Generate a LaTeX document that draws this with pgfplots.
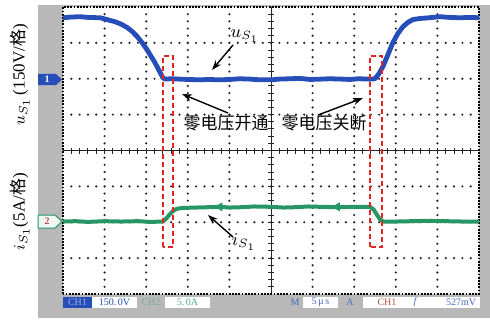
\documentclass[border=0pt]{standalone}
\usepackage{pgfplots}
\pgfplotsset{compat=1.18}
\usetikzlibrary{arrows.meta}
\usepackage{fontspec}
\setmainfont{Liberation Serif}
\newfontfamily\cjk{Noto Sans CJK SC}
\definecolor{panel}{RGB}{184,184,184}
\definecolor{chone}{RGB}{38,78,185}
\definecolor{chtwo}{RGB}{38,150,100}
\definecolor{redmark}{RGB}{228,35,35}
\definecolor{brick}{RGB}{185,85,70}
\begin{document}
\begin{tikzpicture}[x=0.5pt,y=0.5pt]
\useasboundingbox (0,0) rectangle (490,327);
\fill[white] (0,0) rectangle (490,327);
\fill[panel] (38,9) rectangle (490,322);
\fill[white] (63,33) rectangle (479,320);
% grid dots
\foreach \k in {1,2,3,4,6,7,8,9}{
  \foreach \j in {1,...,39}{
    \fill[black!85] ({63+41.6*\k},{33+7.175*\j}) circle (0.6pt);
  }
}
\foreach \k in {1,2,3,5,6,7}{
  \foreach \j in {1,...,49}{
    \fill[black!85] ({63+8.32*\j},{33+35.875*\k}) circle (0.6pt);
  }
}
% center cross with ticks
\draw[black!85, line width=0.5pt] (63,176.5) -- (479,176.5);
\draw[black!85, line width=0.5pt] (271,33) -- (271,320);
\foreach \j in {1,...,49} \draw[black!85,line width=0.5pt] ({63+8.32*\j},173.5) -- ({63+8.32*\j},179.5);
\foreach \j in {1,...,39} \draw[black!85,line width=0.5pt] (268,{33+7.175*\j}) -- (274,{33+7.175*\j});
% border
\draw[black, line width=1.1pt, dash pattern=on 0.9pt off 0.7pt] (63,33) rectangle (479,320);

\begin{axis}[at={(31.5pt,16.5pt)}, anchor=south west, scale only axis,
  width=208pt, height=143.5pt, xmin=0, xmax=10, ymin=-4, ymax=4, hide axis]
\addplot[chone, line width=2.4pt, line join=round] coordinates {
(0,3.70) (0.2,3.72) (0.41,3.73) (0.6,3.71) (0.89,3.70) (1.03,3.66) (1.15,3.62)
(1.25,3.59) (1.4,3.52) (1.54,3.43) (1.66,3.32) (1.78,3.18) (1.9,3.01) (2.02,2.81)
(2.12,2.62) (2.21,2.45) (2.30,2.25) (2.40,2.03) (2.45,1.99) (2.6,2.0) (2.81,1.99)
(3.0,1.98) (3.29,1.97) (3.5,1.98) (3.77,1.97) (4.0,1.98) (4.25,2.00) (4.5,1.99)
(4.74,1.97) (5.0,1.97) (5.2,1.99) (5.46,2.0) (5.7,2.01) (5.94,1.98) (6.2,1.99)
(6.42,2.0) (6.7,1.99) (6.90,1.98) (7.1,2.0) (7.38,1.99) (7.50,2.0) (7.60,2.15)
(7.69,2.34) (7.81,2.67) (7.93,3.01) (8.05,3.26) (8.17,3.45) (8.29,3.57) (8.41,3.65)
(8.58,3.68) (8.8,3.70) (9.06,3.73) (9.3,3.71) (9.54,3.70) (9.8,3.71) (10,3.70)
};
\addplot[chtwo, line width=2pt, line join=round] coordinates {
(0,-1.98) (0.3,-1.97) (0.6,-1.99) (1.0,-1.97) (1.4,-1.98) (1.8,-1.97) (2.1,-1.99)
(2.40,-1.98) (2.48,-1.90) (2.55,-1.80) (2.65,-1.68) (2.75,-1.62) (2.9,-1.60)
(3.2,-1.59) (3.5,-1.58) (3.77,-1.57) (4.0,-1.59) (4.3,-1.58) (4.6,-1.56) (5.0,-1.57)
(5.3,-1.59) (5.6,-1.58) (5.9,-1.56) (6.2,-1.57) (6.6,-1.58) (7.0,-1.57) (7.38,-1.57)
(7.47,-1.65) (7.55,-1.80) (7.62,-1.92) (7.70,-1.98) (8.0,-1.98) (8.4,-1.97)
(8.8,-1.96) (9.2,-1.97) (9.6,-1.98) (10,-1.98)
};
\addplot[only marks, mark=triangle*, mark size=2.2pt, mark options={rotate=90, fill=chtwo, draw=chtwo}]
  coordinates {(3.77,-1.57) (6.59,-1.57)};
\end{axis}

% red dashed boxes
\draw[redmark, dash pattern=on 2.5pt off 1.5pt, line width=0.6pt] (163,80) rectangle (173,271);
\draw[redmark, dash pattern=on 2.5pt off 1.5pt, line width=0.6pt] (370,80) rectangle (382,271);

% channel markers
\fill[chone] (38,253) -- (56,253) -- (62,247.5) -- (56,242) -- (38,242) -- cycle;
\node[text=white, font=\fontsize{5}{6}\selectfont\bfseries] at (47,247.5) {1};
\draw[chtwo, fill=chtwo!8!white, line width=0.5pt] (38,112) -- (55,112) -- (62,105.5) -- (55,99) -- (38,99) -- cycle;
\node[text=brick, font=\fontsize{5}{6}\selectfont\bfseries] at (47,105.5) {2};

% y labels
\node[rotate=90, font=\fontsize{8.5}{10}\selectfont] at (20,252) {$u_{S_1}$\,(150V/{\cjk 格})};
\node[rotate=90, font=\fontsize{8.5}{10}\selectfont] at (20,115) {$i_{S_1}$(5A/{\cjk 格})};

% annotations
\node[font=\cjk\fontsize{8.5}{10}\selectfont] at (226,204) {零电压开通};
\node[font=\cjk\fontsize{8.5}{10}\selectfont] at (324,204) {零电压关断};
\node[font=\fontsize{9}{10}\selectfont] at (245,291) {$u_{S_1}$};
\node[font=\fontsize{9}{10}\selectfont] at (244,85) {$i_{S_1}$};
\draw[-{Stealth[length=5pt,width=3.5pt]}, line width=0.7pt] (233,282) -- (212,257);
\draw[-{Stealth[length=5pt,width=3.5pt]}, line width=0.7pt] (228,214) -- (182,233);
\draw[-{Stealth[length=5pt,width=3.5pt]}, line width=0.7pt] (318,212) -- (363,229);
\draw[-{Stealth[length=5pt,width=3.5pt]}, line width=0.7pt] (233,90) -- (208,112);

% bottom bar
\begin{scope}[every node/.style={font=\fontsize{5}{6}\selectfont, inner sep=0pt}]
\fill[chone] (63,19) rectangle (92,30);
\node[text=chone!45!white] at (77.5,24.5) {CH1};
\fill[white] (92,19) rectangle (137,30);
\node[text=chone] at (114.5,24.5) {150.\,0V};
\node[text=chtwo!45!panel] at (151,24.5) {CH2};
\fill[white] (165,19) rectangle (210,30);
\node[text=chtwo!80!white] at (187.5,24.5) {5.\,0A};
\node[text=chone!85!white] at (295,24.5) {M};
\fill[white] (303,19) rectangle (338,30);
\node[text=chone!85!white] at (320.5,24.5) {5\,μ\,s};
\node[text=chone!85!white] at (350,24.5) {A};
\fill[white] (363,19) rectangle (480,30);
\node[text=brick] at (387,24.5) {CH1};
\node[text=chone!85!white] at (415,24.5) {\itshape f};
\node[text=chone!85!white] at (461,24.5) {527mV};
\end{scope}
\end{tikzpicture}
\end{document}
